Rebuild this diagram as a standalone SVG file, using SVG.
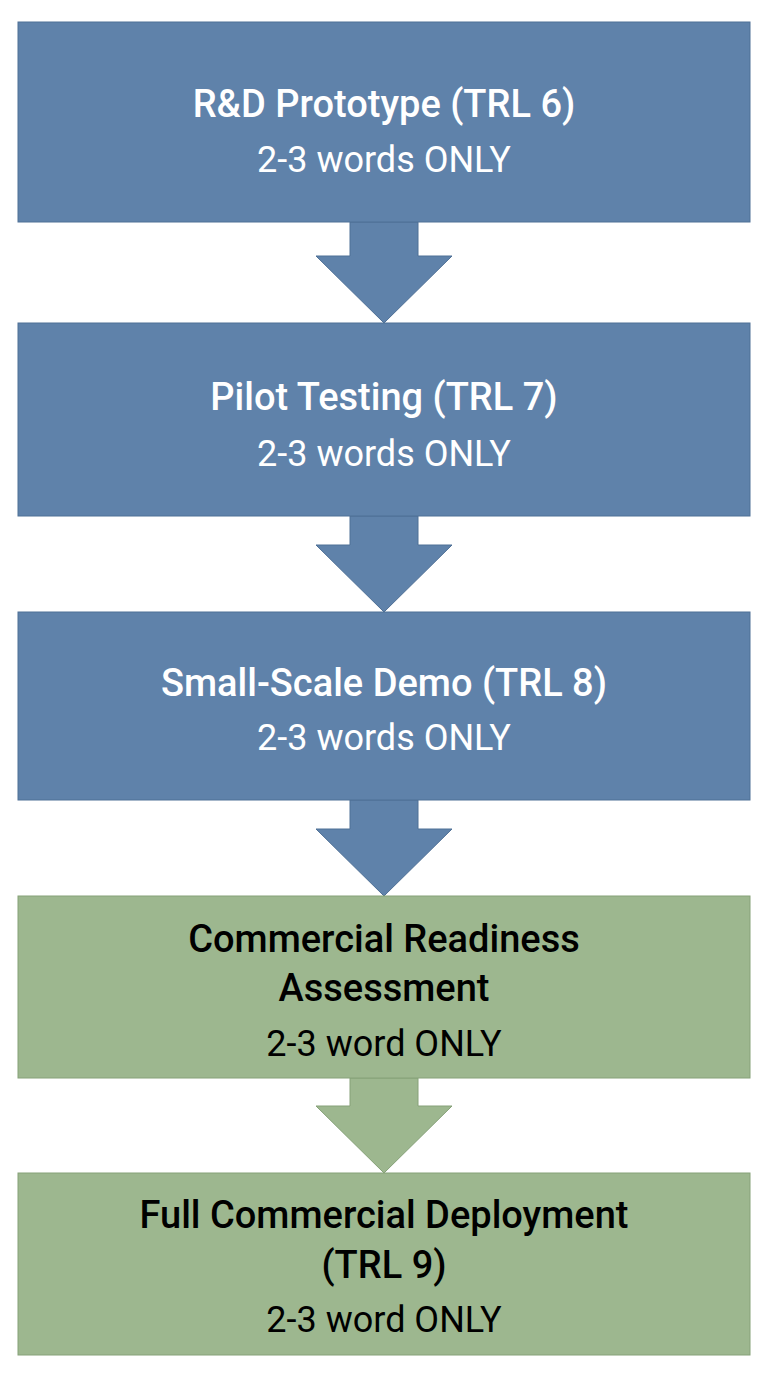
<svg xmlns="http://www.w3.org/2000/svg" width="768" height="1376" viewBox="0 0 768 1376">
<style>
.b{fill:#5f82aa;stroke:#4f7096;stroke-width:1}
.g{fill:#9db78f;stroke:#86a178;stroke-width:1}
.tw{fill:#fff;font-family:Roboto,"Liberation Sans",sans-serif;text-anchor:middle}
.tk{fill:#000;font-family:Roboto,"Liberation Sans",sans-serif;text-anchor:middle}
.h{font-size:38px;font-weight:500}
.s{font-size:36px}
</style>
<rect width="768" height="1376" fill="#fff"/>
<g id="connectors">
<polygon class="b" points="350,222 418,222 418,256 452,256 384,323 316,256 350,256"/>
<polygon class="b" points="350,516 418,516 418,545 452,545 384,612 316,545 350,545"/>
<polygon class="b" points="350,800 418,800 418,829 452,829 384,896 316,829 350,829"/>
<polygon class="g" points="350,1078 418,1078 418,1106 452,1106 384,1173 316,1106 350,1106"/>
</g>
<g id="n1"><rect class="b" x="18" y="22" width="732" height="200"/>
<text class="tw h" x="384" y="117">R&amp;D Prototype (TRL 6)</text>
<text class="tw s" x="384" y="172">2-3 words ONLY</text></g>
<g id="n2"><rect class="b" x="18" y="323" width="732" height="193"/>
<text class="tw h" x="384" y="410">Pilot Testing (TRL 7)</text>
<text class="tw s" x="384" y="466">2-3 words ONLY</text></g>
<g id="n3"><rect class="b" x="18" y="612" width="732" height="188"/>
<text class="tw h" x="384" y="696">Small-Scale Demo (TRL 8)</text>
<text class="tw s" x="384" y="750">2-3 words ONLY</text></g>
<g id="n4"><rect class="g" x="18" y="896" width="732" height="182"/>
<text class="tk h" x="384" y="952">Commercial Readiness</text>
<text class="tk h" x="384" y="1001">Assessment</text>
<text class="tk s" x="384" y="1056">2-3 word ONLY</text></g>
<g id="n5"><rect class="g" x="18" y="1173" width="732" height="182"/>
<text class="tk h" x="384" y="1228">Full Commercial Deployment</text>
<text class="tk h" x="384" y="1278">(TRL 9)</text>
<text class="tk s" x="384" y="1332">2-3 word ONLY</text></g>
</svg>
